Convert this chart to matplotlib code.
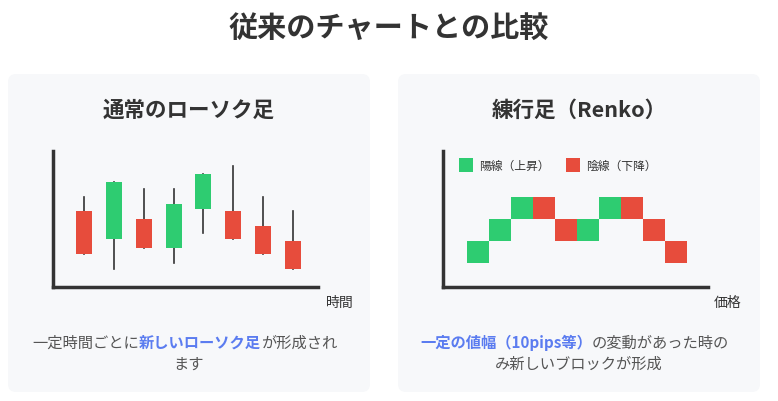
import matplotlib.pyplot as plt
from matplotlib.patches import FancyBboxPatch, Rectangle

plt.rcParams['font.family'] = 'Noto Sans CJK JP'

W, H = 778, 402
GREEN = '#2ecc71'
RED = '#e74c3c'
BLUE = '#5b7cf0'

# candles: open, close, high, low
c_open = [56, 35, 50, 29, 57, 56, 45, 34]
c_close = [24, 77, 29, 61, 83, 35, 24, 13]
c_high = [66, 77, 72, 72, 83, 89, 66, 56]
c_low = [24, 13, 29, 18, 40, 35, 24, 13]

# renko bricks: bottom level, up/down
r_level = [1, 2, 3, 3, 2, 2, 3, 3, 2, 1]
r_up = [True, True, True, False, False, True, True, False, False, False]

fig = plt.figure(figsize=(W / 100, H / 100), dpi=100)
bg = fig.add_axes([0, 0, 1, 1])
bg.set_xlim(0, W); bg.set_ylim(H, 0); bg.axis('off')

bg.text(W / 2, 28, '従来のチャートとの比較', ha='center', va='center',
        fontsize=21, fontweight='bold', color='#333333')
for x0 in (8, 398):
    bg.add_patch(FancyBboxPatch((x0, 75), 362, 318, boxstyle='round,pad=0,rounding_size=8',
                                fc='#f7f8fa', ec='none'))

bg.text(189, 110, '通常のローソク足', ha='center', va='center', fontsize=15.5,
        fontweight='bold', color='#333333')
bg.text(579, 110, '練行足（Renko）', ha='center', va='center', fontsize=15.5,
        fontweight='bold', color='#333333')
bg.text(340, 303, '時間', ha='center', va='center', fontsize=10, color='#333333')
bg.text(728, 303, '価格', ha='center', va='center', fontsize=10, color='#333333')

# bottom texts with highlight
def rich(x, y, parts):
    t = None
    for s, hl in parts:
        kw = dict(fontsize=11, color=BLUE if hl else '#555555',
                  fontweight='bold' if hl else 'normal', va='center')
        if t is None:
            t = bg.text(x, y, s, ha='left', **kw)
        else:
            t = bg.annotate(s, xycoords=t, xy=(1, 0.5), ha='left', **kw)

rich(32, 343, [('一定時間ごとに', False), ('新しいローソク足', True), ('が形成され', False)])
bg.text(189, 364, 'ます', ha='center', va='center', fontsize=11, color='#555555')
rich(420, 343, [('一定の値幅（10pips等）', True), ('の変動があった時の', False)])
bg.text(579, 364, 'み新しいブロックが形成', ha='center', va='center', fontsize=11, color='#555555')

def px_axes(x0, y0, x1, y1):
    return fig.add_axes([x0 / W, 1 - y1 / H, (x1 - x0) / W, (y1 - y0) / H])

# candlestick chart
ax = px_axes(53, 152, 318, 288)
ax.patch.set_alpha(0)
for i in range(len(c_open)):
    x = i + 1
    col = GREEN if c_close[i] > c_open[i] else RED
    ax.plot([x, x], [c_low[i], c_high[i]], color='#333333', lw=1.2, zorder=1)
    lo, hi = min(c_open[i], c_close[i]), max(c_open[i], c_close[i])
    ax.add_patch(Rectangle((x - 0.27, lo), 0.54, hi - lo, fc=col, ec='none', zorder=2))
ax.set_xlim(-0.04, 8.84); ax.set_ylim(0, 100)
for s in ('top', 'right'):
    ax.spines[s].set_visible(False)
for s in ('left', 'bottom'):
    ax.spines[s].set_linewidth(2.5); ax.spines[s].set_color('#333333')
ax.set_xticks([]); ax.set_yticks([])

# renko chart
ax2 = px_axes(443, 152, 708, 288)
ax2.patch.set_alpha(0)
for i, (lv, up) in enumerate(zip(r_level, r_up)):
    ax2.add_patch(Rectangle((i, lv), 1, 1, fc=GREEN if up else RED, ec='none'))
ax2.set_xlim(-1.09, 10.95); ax2.set_ylim(-0.09, 6.09)
for s in ('top', 'right'):
    ax2.spines[s].set_visible(False)
for s in ('left', 'bottom'):
    ax2.spines[s].set_linewidth(2.5); ax2.spines[s].set_color('#333333')
ax2.set_xticks([]); ax2.set_yticks([])

# legend
bg.add_patch(Rectangle((459, 159), 14, 14, fc=GREEN, ec='none'))
bg.text(479, 166, '陽線（上昇）', va='center', fontsize=8.5, color='#333333')
bg.add_patch(Rectangle((566, 159), 14, 14, fc=RED, ec='none'))
bg.text(586, 166, '陰線（下降）', va='center', fontsize=8.5, color='#333333')

fig.savefig('out.png', dpi=100)
